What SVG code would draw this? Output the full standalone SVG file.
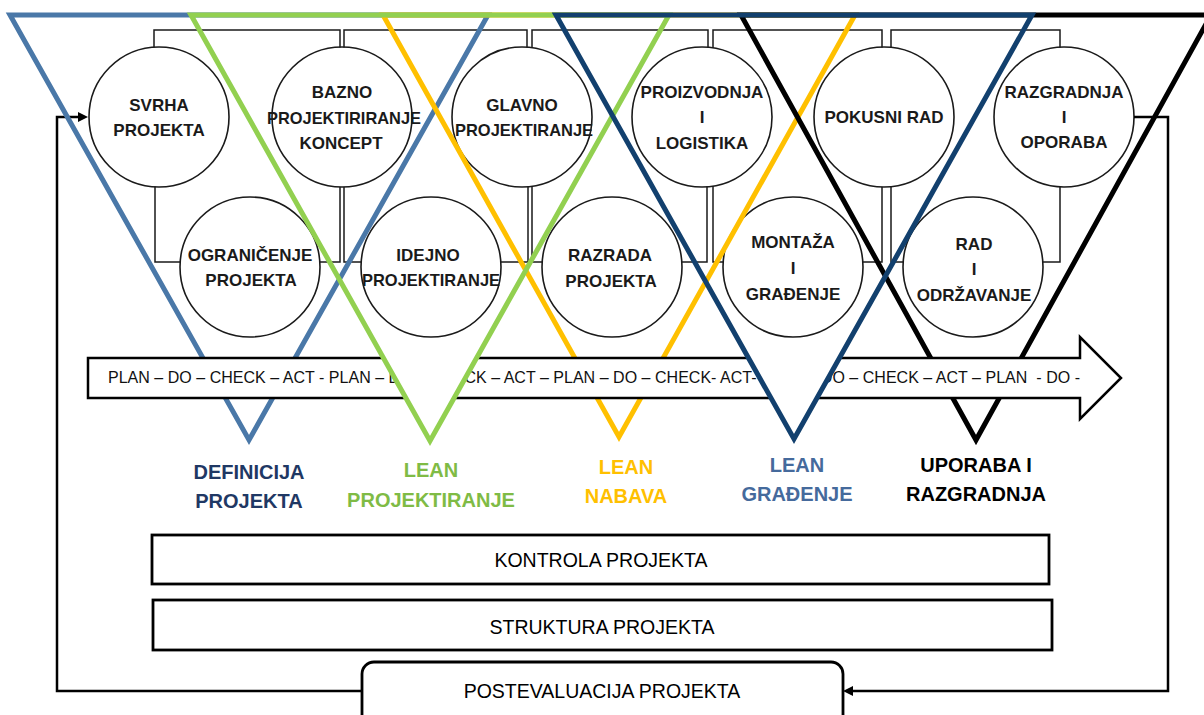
<svg xmlns="http://www.w3.org/2000/svg" width="1204" height="715" viewBox="0 0 1204 715">
<style>
.c{fill:#fff;stroke:#1a1a1a;stroke-width:1.6}
.t{font-family:"Liberation Sans",Arial,sans-serif;font-weight:bold;font-size:17px;fill:#1a1a1a;text-anchor:middle}
.br{fill:none;stroke:#1a1a1a;stroke-width:1.5}
.fb{fill:none;stroke:#000;stroke-width:2.5}
.tri{fill:none;stroke-width:5;stroke-linejoin:miter}
.lbl{font-family:"Liberation Sans",Arial,sans-serif;font-weight:bold;font-size:20px;text-anchor:middle}
.box{fill:#fff;stroke:#000;stroke-width:2.8}
.bt{font-family:"Liberation Sans",Arial,sans-serif;font-size:19.5px;fill:#000;text-anchor:middle}
</style>
<defs>
<marker id="ah" viewBox="0 0 10 10" refX="0" refY="5" markerWidth="10" markerHeight="10" markerUnits="userSpaceOnUse" orient="auto"><path d="M0,0 L10,5 L0,10 z" fill="#000"/></marker>
<clipPath id="band"><rect x="86" y="356" width="996" height="44"/></clipPath>
</defs>

<g id="n-svrha"><circle class="c" cx="159" cy="117" r="70"/><text class="t" x="159" y="111">SVRHA</text><text class="t" x="159" y="136">PROJEKTA</text></g>
<g id="n-bazno"><circle class="c" cx="342" cy="117" r="70"/><text class="t" x="342" y="98">BAZNO</text><text class="t" x="344" y="124" textLength="154" lengthAdjust="spacingAndGlyphs">PROJEKTIRIRANJE</text><text class="t" x="341" y="149">KONCEPT</text></g>
<g id="n-glavno"><circle class="c" cx="522" cy="117" r="70"/><text class="t" x="522" y="111">GLAVNO</text><text class="t" x="524" y="136" textLength="138" lengthAdjust="spacingAndGlyphs">PROJEKTIRANJE</text></g>
<g id="n-proizvodnja"><circle class="c" cx="702" cy="117" r="70"/><text class="t" x="702" y="98">PROIZVODNJA</text><text class="t" x="702" y="123">I</text><text class="t" x="702" y="149">LOGISTIKA</text></g>
<g id="n-pokusni"><circle class="c" cx="884" cy="117" r="70"/><text class="t" x="884" y="123">POKUSNI RAD</text></g>
<g id="n-razgradnja"><circle class="c" cx="1064" cy="117" r="70"/><text class="t" x="1064" y="98">RAZGRADNJA</text><text class="t" x="1064" y="123">I</text><text class="t" x="1064" y="148">OPORABA</text></g>

<g id="n-ogranicenje"><circle class="c" cx="250" cy="267" r="70"/><text class="t" x="250" y="261">OGRANIČENJE</text><text class="t" x="251" y="286">PROJEKTA</text></g>
<g id="n-idejno"><circle class="c" cx="431" cy="267" r="70"/><text class="t" x="428" y="261">IDEJNO</text><text class="t" x="431" y="286" textLength="138" lengthAdjust="spacingAndGlyphs">PROJEKTIRANJE</text></g>
<g id="n-razrada"><circle class="c" cx="612" cy="267" r="70"/><text class="t" x="610" y="261">RAZRADA</text><text class="t" x="611" y="287">PROJEKTA</text></g>
<g id="n-montaza"><circle class="c" cx="793" cy="267" r="70"/><text class="t" x="793" y="248">MONTAŽA</text><text class="t" x="793" y="274">I</text><text class="t" x="793" y="300">GRAĐENJE</text></g>
<g id="n-rad"><circle class="c" cx="973" cy="267" r="70"/><text class="t" x="974" y="250">RAD</text><text class="t" x="974" y="275">I</text><text class="t" x="974" y="301">ODRŽAVANJE</text></g>

<g id="connectors">
<path class="br" d="M154,47.5 V30 H340 V47.5 M344,47.5 V30 H527 V47.5 M532,48 V30 H708 V47.5 M713,48 V30 H882 V47.5 M891,47.5 V30 H1060 V47.5"/>
<path class="br" d="M155,186.5 V262 H180.2 M319.8,262 H340 V187 M344,187 V262 H361.2 M500.8,262 H528 V186.5 M532,186 V262 H542.2 M681.8,262 H707 V186.5 M713,186 V262 H723.2 M862.8,262 H882 V187 M891,186.5 V262 H903.2 M1042.8,262 H1060 V187"/>
<path class="fb" d="M362,691 H57 V117 H78" marker-end="url(#ah)"/>
<path class="fb" d="M1134,117 H1168 V691 H853" marker-end="url(#ah)"/>
</g>

<g id="phase-definicija"><polygon class="tri" points="10,15 488,15 249,440" stroke="#4a78a8"/><text class="lbl" x="249" y="479" fill="#1f3864">DEFINICIJA</text><text class="lbl" x="249" y="508" fill="#1f3864">PROJEKTA</text></g>
<g id="phase-lean-nabava"><polygon class="tri" points="383,15 855,15 619,437" stroke="#ffc000"/><text class="lbl" x="626" y="474" fill="#ffc000">LEAN</text><text class="lbl" x="626" y="503" fill="#ffc000">NABAVA</text></g>
<g id="phase-uporaba"><polygon class="tri" points="741,15 1211,15 976,440" stroke="#000"/><text class="lbl" x="976" y="472" fill="#000">UPORABA I</text><text class="lbl" x="976" y="501" fill="#000">RAZGRADNJA</text></g>

<g id="pdca">
<polygon points="88,358 1080,358 1080,337 1121,378 1080,419 1080,398 88,398" fill="#fff" stroke="#000" stroke-width="2.5"/>
<text x="108" y="383" xml:space="preserve" font-family="Liberation Sans, Arial, sans-serif" font-size="16" fill="#111" textLength="972" lengthAdjust="spacing">PLAN – DO – CHECK – ACT - PLAN – DO – CHECK – ACT – PLAN – DO – CHECK- ACT- PLAN – DO – CHECK – ACT – PLAN  - DO -</text>
</g>

<g id="phase-lean-projektiranje"><polygon points="191,15 669,15 430,441" fill="#fff" clip-path="url(#band)"/><polygon class="tri" points="191,15 669,15 430,441" stroke="#92d050"/><text class="lbl" x="431" y="477" fill="#7fbb45">LEAN</text><text class="lbl" x="431" y="507" fill="#7fbb45">PROJEKTIRANJE</text></g>
<g id="phase-lean-gradjenje"><polygon points="556,15 1032,15 794,439" fill="#fff" clip-path="url(#band)"/><polygon class="tri" points="556,15 1032,15 794,439" stroke="#12406e"/><text class="lbl" x="797" y="472" fill="#456a9c">LEAN</text><text class="lbl" x="797" y="501" fill="#456a9c">GRAĐENJE</text></g>

<g id="n-kontrola"><rect class="box" x="152" y="535" width="897" height="49"/><text class="bt" x="601" y="567">KONTROLA PROJEKTA</text></g>
<g id="n-struktura"><rect class="box" x="153" y="600" width="899" height="50"/><text class="bt" x="602" y="634">STRUKTURA PROJEKTA</text></g>
<g id="n-postevaluacija"><rect class="box" x="362" y="662" width="481" height="72" rx="12" stroke-width="2.4"/><text class="bt" x="602" y="698">POSTEVALUACIJA PROJEKTA</text></g>
</svg>
